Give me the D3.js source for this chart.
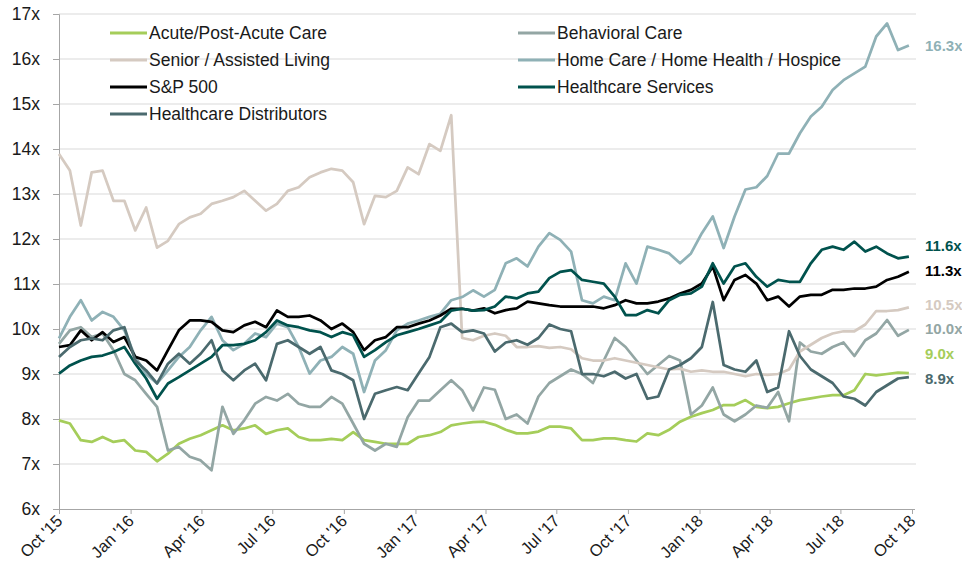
<!DOCTYPE html>
<html>
<head>
<meta charset="utf-8">
<script src="https://cdn.jsdelivr.net/npm/d3@7"></script>
<style>
  body { margin: 0; background: #fff; }
  svg text { font-family: "Liberation Sans", Arial, sans-serif; }
</style>
</head>
<body>
<div id="chart"></div>
<script>
////////////////////////////////////
////////////// data ////////////////
////////////////////////////////////

// EV / NTM EBITDA multiples, read roughly every two weeks off the chart
const seriesNames = ['Acute/Post-Acute Care', 'Behavioral Care', 'Senior / Assisted Living',
    'Home Care / Home Health / Hospice', 'S&P 500', 'Healthcare Services', 'Healthcare Distributors']
const seriesColors = ['#a5cd5a', '#93a6a4', '#d5cac1', '#8fb1b6', '#000000', '#00524d', '#4b6a6e']

const acute = [7.97, 7.9, 7.53, 7.49, 7.6, 7.49, 7.53, 7.3, 7.27, 7.06,
    7.23, 7.45, 7.56, 7.64, 7.75, 7.86, 7.75, 7.79, 7.86, 7.67,
    7.75, 7.79, 7.6, 7.53, 7.53, 7.56, 7.53, 7.71, 7.53, 7.49,
    7.45, 7.45, 7.45, 7.6, 7.64, 7.71, 7.86, 7.9, 7.93, 7.94,
    7.87, 7.76, 7.68, 7.68, 7.72, 7.83, 7.83, 7.79, 7.53, 7.53,
    7.57, 7.57, 7.53, 7.5, 7.68, 7.64, 7.76, 7.94, 8.05, 8.13,
    8.2, 8.31, 8.31, 8.42, 8.27, 8.24, 8.27, 8.35, 8.42, 8.46,
    8.5, 8.53, 8.53, 8.64, 9.0, 8.97, 9.0, 9.03, 9.02]
const behavioral = [9.67, 9.97, 10.04, 9.82, 9.9, 9.53, 9.0, 8.86, 8.56, 8.27,
    7.3, 7.38, 7.16, 7.08, 6.86, 8.27, 7.67, 7.97, 8.34, 8.49,
    8.41, 8.56, 8.34, 8.27, 8.27, 8.49, 8.34, 7.9, 7.45, 7.3,
    7.45, 7.38, 8.04, 8.41, 8.41, 8.64, 8.86, 8.64, 8.19, 8.7,
    8.65, 8.0, 8.1, 7.9, 8.5, 8.8, 8.95, 9.1, 9.0, 8.8,
    9.3, 9.8, 9.6, 9.3, 9.0, 9.2, 9.4, 9.3, 8.1, 8.3,
    8.7, 8.1, 7.95, 8.1, 8.3, 8.25, 8.6, 7.95, 9.7, 9.5,
    9.45, 9.6, 9.7, 9.4, 9.75, 9.9, 10.2, 9.85, 9.98]
const senior = [13.89, 13.52, 12.3, 13.48, 13.52, 12.85, 12.85, 12.19, 12.7, 11.81,
    11.96, 12.33, 12.48, 12.56, 12.78, 12.85, 12.93, 13.07, 12.85, 12.63,
    12.78, 13.07, 13.15, 13.37, 13.48, 13.56, 13.52, 13.26, 12.33, 12.96,
    12.93, 13.07, 13.59, 13.44, 14.11, 13.96, 14.75, 9.8, 9.75, 9.85,
    9.9, 9.85, 9.6, 9.6, 9.62, 9.58, 9.6, 9.55, 9.35, 9.3,
    9.3, 9.35, 9.3, 9.25, 9.2, 9.15, 9.1, 9.12, 9.05, 9.08,
    9.05, 9.05, 9.0, 8.95, 9.0, 8.98, 9.0, 9.1, 9.5, 9.65,
    9.8, 9.9, 9.95, 9.95, 10.1, 10.4, 10.4, 10.42, 10.48]
const homeCare = [9.79, 10.27, 10.64, 10.19, 10.38, 10.27, 9.97, 9.38, 9.0, 8.79,
    9.08, 9.38, 9.6, 9.97, 10.27, 9.75, 9.53, 9.67, 9.9, 9.82,
    10.12, 10.04, 9.6, 9.01, 9.3, 9.38, 9.6, 9.45, 8.6, 9.3,
    9.53, 9.97, 10.12, 10.19, 10.27, 10.34, 10.64, 10.71, 10.86, 10.72,
    10.87, 11.46, 11.57, 11.39, 11.83, 12.13, 11.98, 11.72, 10.64, 10.57,
    10.72, 10.64, 11.46, 11.01, 11.83, 11.76, 11.68, 11.46, 11.68, 12.13,
    12.5, 11.8, 12.5, 13.1, 13.15, 13.4, 13.9, 13.9, 14.35, 14.72,
    14.94, 15.31, 15.53, 15.68, 15.83, 16.5, 16.79, 16.2, 16.3]
const sp500 = [9.6, 9.64, 9.97, 9.75, 9.93, 9.71, 9.82, 9.38, 9.3, 9.08,
    9.53, 9.97, 10.19, 10.19, 10.16, 9.97, 9.93, 10.08, 10.16, 10.04,
    10.41, 10.27, 10.27, 10.3, 10.19, 10.0, 10.12, 9.93, 9.53, 9.75,
    9.82, 10.04, 10.04, 10.12, 10.19, 10.3, 10.45, 10.45, 10.41, 10.46,
    10.35, 10.42, 10.46, 10.61, 10.57, 10.53, 10.5, 10.5, 10.5, 10.5,
    10.46, 10.53, 10.64, 10.57, 10.57, 10.61, 10.68, 10.79, 10.87, 11.01,
    11.39, 10.64, 11.09, 11.2, 11.01, 10.64, 10.72, 10.5, 10.72, 10.76,
    10.76, 10.87, 10.87, 10.9, 10.9, 10.94, 11.09, 11.16, 11.27]
const hcServices = [9.01, 9.19, 9.3, 9.38, 9.41, 9.49, 9.6, 9.23, 8.9, 8.45,
    8.79, 8.93, 9.08, 9.23, 9.38, 9.64, 9.64, 9.67, 9.75, 9.93,
    10.19, 10.08, 10.04, 9.97, 9.93, 9.82, 9.93, 9.86, 9.38, 9.53,
    9.71, 9.86, 9.93, 10.0, 10.08, 10.16, 10.41, 10.45, 10.41, 10.42,
    10.5, 10.72, 10.68, 10.79, 10.83, 11.13, 11.27, 11.31, 11.09, 11.05,
    11.01, 10.72, 10.31, 10.31, 10.42, 10.35, 10.64, 10.76, 10.79, 10.94,
    11.46, 11.01, 11.39, 11.46, 11.16, 10.94, 11.09, 11.05, 11.05, 11.46,
    11.76, 11.83, 11.76, 11.94, 11.72, 11.83, 11.68, 11.57, 11.61]
const distributors = [9.38, 9.6, 9.75, 9.79, 9.75, 9.97, 10.04, 9.3, 9.08, 8.79,
    9.23, 9.45, 9.23, 9.45, 9.75, 9.08, 8.86, 9.08, 9.23, 8.86,
    9.67, 9.75, 9.6, 9.45, 9.6, 9.08, 9.0, 8.86, 8.0, 8.56,
    8.64, 8.71, 8.64, 9.01, 9.38, 10.04, 10.12, 9.93, 9.97, 9.9,
    9.5, 9.7, 9.75, 9.65, 9.8, 10.1, 10.0, 9.95, 9.0, 9.0,
    8.95, 9.05, 8.9, 9.0, 8.45, 8.5, 9.1, 9.2, 9.35, 9.6,
    10.6, 9.2, 9.1, 9.05, 9.3, 8.6, 8.7, 9.95, 9.4, 9.1,
    8.95, 8.8, 8.5, 8.45, 8.3, 8.6, 8.75, 8.9, 8.93]

// labels printed at the right end of each line
const endValues = [9.0, 10.0, 10.5, 16.3, 11.3, 11.6, 8.9]

const yTicks = [6, 7, 8, 9, 10, 11, 12, 13, 14, 15, 16, 17]
const startDate = new Date(2015, 9, 1)
const endDate = new Date(2018, 9, 1)
// one observation every two weeks
const dates = d3.timeDay.range(startDate, endDate, 14)
const quarterTicks = d3.timeMonth.every(3).range(startDate, d3.timeDay.offset(endDate, 1))

const seriesValues = [acute, behavioral, senior, homeCare, sp500, hcServices, distributors]
const series = seriesNames.map((name, i) => ({
    name,
    color: seriesColors[i],
    end: endValues[i],
    values: dates.map((d, j) => ({ date: d, value: seriesValues[i][j] }))
}))

////////////////////////////////////
//////////// SVG Setup /////////////
////////////////////////////////////

const svgWidth = 962
const svgHeight = 564
const margin = { left: 59, right: 50, top: 14, bottom: 55 }
const width = svgWidth - margin.left - margin.right
const height = svgHeight - margin.top - margin.bottom

const root = d3.select('#chart')
    .append('svg')
    .attr('width', svgWidth)
    .attr('height', svgHeight)

const svg = root.append('g')
    .attr('transform', 'translate(' + margin.left + ',' + margin.top + ')')

const axisColor = '#a6a6a6'
const gridColor = '#d9d9d9'
const textColor = '#1a1a1a'
const fontSize = '17.5px'

////////////////////////////////////
//////////////scales////////////////
////////////////////////////////////

const xScale = d3.scaleTime()
    .domain([startDate, endDate])
    .range([0, width])

const yScale = d3.scaleLinear()
    .domain([6, 17])
    .range([height, 0])

////////////////////////////////////
///////////////axis/////////////////
////////////////////////////////////

// horizontal gridlines
svg.append('g')
    .selectAll('line')
    .data(yTicks.filter(d => d > 6))
    .join('line')
    .attr('x1', 0)
    .attr('x2', width + 4)
    .attr('y1', d => yScale(d))
    .attr('y2', d => yScale(d))
    .attr('stroke', gridColor)
    .attr('stroke-width', 1)

const yAxis = d3.axisLeft(yScale)
    .tickValues(yTicks)
    .tickFormat(d => d + 'x')
    .tickSize(6)
    .tickPadding(13)

const yG = svg.append('g').call(yAxis)
yG.select('.domain').attr('stroke', axisColor)
yG.selectAll('.tick line').attr('stroke', axisColor)
yG.selectAll('.tick text')
    .attr('fill', textColor)
    .style('font-size', fontSize)

const xAxis = d3.axisBottom(xScale)
    .tickValues(quarterTicks)
    .tickFormat(d3.timeFormat("%b '%y"))
    .tickSize(5)
    .tickSizeOuter(0)

const xG = svg.append('g')
    .attr('transform', 'translate(0,' + height + ')')
    .call(xAxis)
xG.select('.domain').attr('stroke', axisColor).attr('d', 'M0,0.5H' + (width + 3))
xG.selectAll('.tick line').attr('stroke', axisColor)
xG.selectAll('.tick text')
    .attr('fill', textColor)
    .style('font-size', '16.5px')
    .attr('x', 0)
    .attr('y', 0)
    .attr('dy', 0)
    .attr('text-anchor', 'end')
    .attr('transform', 'translate(4,13) rotate(-45)')

////////////////////////////////////
////////////// lines ///////////////
////////////////////////////////////

const line = d3.line()
    .x(d => xScale(d.date))
    .y(d => yScale(d.value))

svg.selectAll('.series')
    .data(series)
    .join('path')
    .attr('class', 'series')
    .attr('d', d => line(d.values))
    .attr('fill', 'none')
    .attr('stroke', d => d.color)
    .attr('stroke-width', 2.75)
    .attr('stroke-linejoin', 'round')

////////////////////////////////////
/////////// end labels /////////////
////////////////////////////////////

// walk up from the lowest label, lifting any that would overlap the one below
const labelGap = 24.5
const labels = series.map(s => ({ s, y: yScale(s.end) }))
    .sort((a, b) => b.y - a.y)
labels.forEach((l, i) => {
    if (i > 0) l.y = Math.min(l.y, labels[i - 1].y - labelGap)
})

svg.selectAll('.end-label')
    .data(labels)
    .join('text')
    .attr('class', 'end-label')
    .attr('x', width + 13)
    .attr('y', d => d.y)
    .attr('dy', '0.35em')
    .attr('fill', d => d.s.color)
    .style('font-size', '15px')
    .style('font-weight', 'bold')
    .text(d => d3.format('.1f')(d.s.end) + 'x')

////////////////////////////////////
////////////// legend //////////////
////////////////////////////////////

const legendCols = [110, 518]
const legendTop = 33
const legendRow = 27

const legend = root.append('g')
    .selectAll('g')
    .data(series)
    .join('g')
    .attr('transform', (d, i) => 'translate(' + legendCols[i % 2] + ',' + (legendTop + Math.floor(i / 2) * legendRow) + ')')

legend.append('line')
    .attr('x1', 0)
    .attr('x2', 37)
    .attr('stroke', d => d.color)
    .attr('stroke-width', 3)

legend.append('text')
    .attr('x', 39)
    .attr('dy', '0.35em')
    .attr('fill', textColor)
    .style('font-size', fontSize)
    .text(d => d.name)
</script>
</body>
</html>
